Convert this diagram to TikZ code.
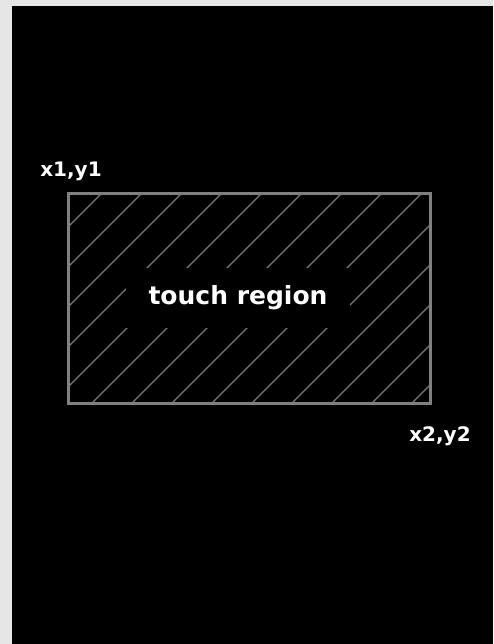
\documentclass[tikz,border=0pt]{standalone}
\usepackage{fontspec}
\setmainfont{DejaVu Sans}
\definecolor{panelgray}{HTML}{E6E6E6}
\definecolor{edgegray}{HTML}{808080}
\definecolor{hatchgray}{HTML}{7A7A7A}
\tikzset{
  frame/.style={draw=edgegray, line width=3pt},
  hatch/.style={draw=hatchgray, line width=1.2pt},
  corner/.style={text=white, font=\bfseries\fontsize{20}{23}\selectfont, inner sep=0pt},
  regionlabel/.style={fill=black, text=white, font=\bfseries\fontsize{25}{28}\selectfont,
    minimum width=224pt, minimum height=60pt, inner sep=0pt}
}

\begin{document}
\begin{tikzpicture}[x=1pt, y=-1pt]
	\useasboundingbox (0,0) rectangle (493,644);
	\fill[black] (0,0) rectangle (493,644);
	\fill[panelgray] (0,0) rectangle (493,6);
	\fill[panelgray] (0,0) rectangle (12,644);
	% touch area corners
	\coordinate (p1) at (68.5,193.5);
	\coordinate (p2) at (430.5,403.5);
	\begin{scope}
		\clip (p1) rectangle (p2);
		\foreach \k in {0,...,13}
			\draw[hatch] ({295+40*\k-193.5},193.5) -- ++(-230,230);
	\end{scope}
	\draw[frame] (p1) rectangle (p2);
	\node[regionlabel] (region) at (238,298) {touch region};
	\node[corner, anchor=base] (c1) at (71,177) {x1,y1};
	\node[corner, anchor=base] (c2) at (440,441) {x2,y2};
\end{tikzpicture}
\end{document}
